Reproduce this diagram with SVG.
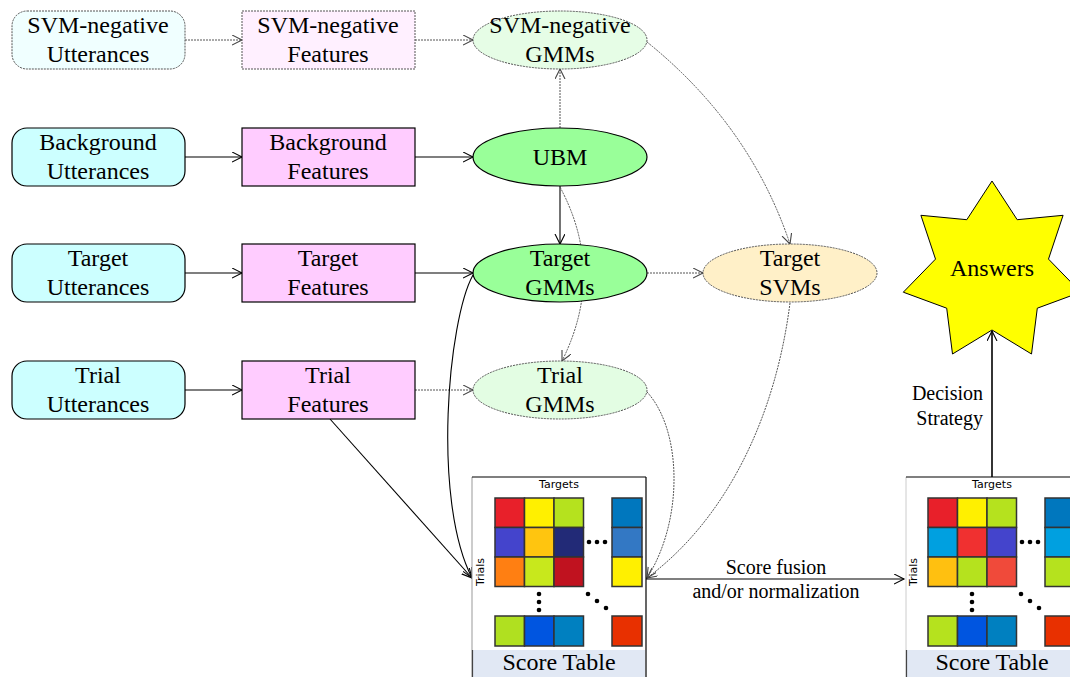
<svg xmlns="http://www.w3.org/2000/svg" width="1070" height="677" viewBox="0 0 1070 677">
<style>
.t{font-family:'Liberation Serif','Times New Roman',Times,Tinos,serif;font-size:24px;fill:#000;text-anchor:middle}
.s{font-family:'Liberation Serif','Times New Roman',Times,Tinos,serif;font-size:20px;fill:#000}
.sm{font-family:'DejaVu Sans',sans-serif;font-size:11px;fill:#000;text-anchor:middle}
.solid{stroke:#000;stroke-width:1.2}
.dot{stroke:#555;stroke-width:1;stroke-dasharray:2 1}
.ln{fill:none;stroke:#000;stroke-width:1.1}
.dl{fill:none;stroke:#555;stroke-width:1;stroke-dasharray:2 1}
.cell{stroke:#333;stroke-width:1.5}
</style>
<defs>
<marker id="a" markerUnits="userSpaceOnUse" markerWidth="12" markerHeight="12" refX="10" refY="5" orient="auto">
<path d="M0,0 L10,5 L0,10" fill="none" stroke="#000" stroke-width="1.1"/>
</marker>
<marker id="ag" markerUnits="userSpaceOnUse" markerWidth="12" markerHeight="12" refX="10" refY="5" orient="auto">
<path d="M0,0 L10,5 L0,10" fill="none" stroke="#444" stroke-width="1.1"/>
</marker>
</defs>
<rect width="1070" height="677" fill="#fff"/>

<g id="connectors">
<line class="dl" x1="185" y1="40" x2="242" y2="40" marker-end="url(#ag)"/>
<line class="dl" x1="415" y1="40" x2="473" y2="40" marker-end="url(#ag)"/>
<line class="ln" x1="185" y1="157" x2="242" y2="157" marker-end="url(#a)"/>
<line class="ln" x1="415" y1="157" x2="473" y2="157" marker-end="url(#a)"/>
<line class="ln" x1="185" y1="273" x2="242" y2="273" marker-end="url(#a)"/>
<line class="ln" x1="415" y1="273" x2="473" y2="273" marker-end="url(#a)"/>
<line class="ln" x1="185" y1="390" x2="242" y2="390" marker-end="url(#a)"/>
<line class="dl" x1="415" y1="390" x2="473" y2="390" marker-end="url(#ag)"/>
<line class="dl" x1="560" y1="128" x2="560" y2="69" marker-end="url(#ag)"/>
<line class="ln" x1="560" y1="186" x2="560" y2="244" marker-end="url(#a)"/>
<path class="dl" d="M560,187 Q606,273 562,361" marker-end="url(#ag)"/>
<path class="dl" d="M647,42 Q750,125 790,244" marker-end="url(#ag)"/>
<line class="dl" x1="647" y1="273" x2="703" y2="273" marker-end="url(#ag)"/>
<path class="dl" d="M790,303 C775,420 725,520 647,578" marker-end="url(#ag)"/>
<path class="dl" d="M647,392 C682,430 684,520 647,578" marker-end="url(#ag)"/>
<path class="ln" d="M473,275 C448,320 432,500 472,578" marker-end="url(#a)"/>
<line class="ln" x1="330" y1="419" x2="472" y2="578" marker-end="url(#a)"/>
<line class="ln" x1="646" y1="579" x2="904" y2="579" marker-end="url(#a)"/>
<line class="ln" x1="992" y1="477" x2="992" y2="331" marker-end="url(#a)"/>
<text class="s" x="776" y="574" text-anchor="middle">Score fusion</text>
<text class="s" x="776" y="598" text-anchor="middle">and/or normalization</text>
<text class="s" x="983" y="400" text-anchor="end">Decision</text>
<text class="s" x="983" y="425" text-anchor="end">Strategy</text>
</g>

<g id="svmneg-utt">
<rect x="12" y="11" width="173" height="58" rx="15" fill="#f0ffff" class="dot"/>
<text class="t" x="98" y="33">SVM-negative</text><text class="t" x="98" y="62">Utterances</text>
</g>
<g id="bg-utt">
<rect x="12" y="128" width="173" height="58" rx="15" fill="#ccffff" class="solid"/>
<text class="t" x="98" y="150">Background</text><text class="t" x="98" y="179">Utterances</text>
</g>
<g id="target-utt">
<rect x="12" y="244" width="173" height="58" rx="15" fill="#ccffff" class="solid"/>
<text class="t" x="98" y="266">Target</text><text class="t" x="98" y="295">Utterances</text>
</g>
<g id="trial-utt">
<rect x="12" y="361" width="173" height="58" rx="15" fill="#ccffff" class="solid"/>
<text class="t" x="98" y="383">Trial</text><text class="t" x="98" y="412">Utterances</text>
</g>

<g id="svmneg-feat">
<rect x="242" y="11" width="173" height="58" fill="#fff0ff" class="dot"/>
<text class="t" x="328" y="33">SVM-negative</text><text class="t" x="328" y="62">Features</text>
</g>
<g id="bg-feat">
<rect x="242" y="128" width="173" height="58" fill="#ffccff" class="solid"/>
<text class="t" x="328" y="150">Background</text><text class="t" x="328" y="179">Features</text>
</g>
<g id="target-feat">
<rect x="242" y="244" width="173" height="58" fill="#ffccff" class="solid"/>
<text class="t" x="328" y="266">Target</text><text class="t" x="328" y="295">Features</text>
</g>
<g id="trial-feat">
<rect x="242" y="361" width="173" height="58" fill="#ffccff" class="solid"/>
<text class="t" x="328" y="383">Trial</text><text class="t" x="328" y="412">Features</text>
</g>

<g id="svmneg-gmms">
<ellipse cx="560" cy="40" rx="87" ry="29" fill="#e6fde6" class="dot"/>
<text class="t" x="560" y="33">SVM-negative</text><text class="t" x="560" y="62">GMMs</text>
</g>
<g id="ubm">
<ellipse cx="560" cy="157" rx="87" ry="29" fill="#99ff99" class="solid"/>
<text class="t" x="560" y="165">UBM</text>
</g>
<g id="target-gmms">
<ellipse cx="560" cy="273" rx="87" ry="29" fill="#99ff99" class="solid"/>
<text class="t" x="560" y="266">Target</text><text class="t" x="560" y="295">GMMs</text>
</g>
<g id="trial-gmms">
<ellipse cx="560" cy="390" rx="87" ry="29" fill="#e3fde3" class="dot"/>
<text class="t" x="560" y="383">Trial</text><text class="t" x="560" y="412">GMMs</text>
</g>
<g id="target-svms">
<ellipse cx="790" cy="273" rx="87" ry="29" fill="#fff0c8" class="dot"/>
<text class="t" x="790" y="266">Target</text><text class="t" x="790" y="295">SVMs</text>
</g>

<g id="answers">
<polygon points="992,181 1017.2,219.7 1063.1,215.3 1048.5,259.1 1080.7,292.2 1037.3,308.2 1031.5,354 992,330 952.5,354 946.7,308.2 903.3,292.2 935.5,259.1 920.9,215.3 966.8,219.7" fill="#ffff00" stroke="#000" stroke-width="1"/>
<text class="t" x="992" y="276">Answers</text>
</g>

<g id="score-table-1">
<rect x="472" y="477" width="174" height="200" fill="#fff" stroke="none"/>
<line x1="472" y1="477" x2="472" y2="677" stroke="#999" stroke-width="1"/>
<line x1="472" y1="477" x2="646" y2="477" stroke="#000" stroke-width="1.2"/>
<line x1="646" y1="477" x2="646" y2="677" stroke="#000" stroke-width="1.2"/>
<rect x="473" y="650" width="172" height="27" fill="#e1e8f4"/>
<line x1="472.5" y1="650" x2="472.5" y2="677" stroke="#444" stroke-width="1.2"/>
<text class="sm" x="559" y="488">Targets</text>
<text class="sm" transform="translate(484,572) rotate(-90)">Trials</text>
<rect class="cell" x="495" y="498" width="29.5" height="29.5" fill="#e8202a"/>
<rect class="cell" x="524.5" y="498" width="29.5" height="29.5" fill="#fff000"/>
<rect class="cell" x="554" y="498" width="29.5" height="29.5" fill="#b5e21e"/>
<rect class="cell" x="495" y="527.5" width="29.5" height="29.5" fill="#4444cc"/>
<rect class="cell" x="524.5" y="527.5" width="29.5" height="29.5" fill="#ffc50f"/>
<rect class="cell" x="554" y="527.5" width="29.5" height="29.5" fill="#222a77"/>
<rect class="cell" x="495" y="557" width="29.5" height="29.5" fill="#ff7f12"/>
<rect class="cell" x="524.5" y="557" width="29.5" height="29.5" fill="#c8e81c"/>
<rect class="cell" x="554" y="557" width="29.5" height="29.5" fill="#c0121f"/>
<rect class="cell" x="612" y="498" width="30" height="29.5" fill="#0077be"/>
<rect class="cell" x="612" y="527.5" width="30" height="29.5" fill="#3378c4"/>
<rect class="cell" x="612" y="557" width="30" height="29.5" fill="#fff000"/>
<rect class="cell" x="495" y="616" width="29.5" height="30" fill="#b0e020"/>
<rect class="cell" x="524.5" y="616" width="29.5" height="30" fill="#0055e0"/>
<rect class="cell" x="554" y="616" width="29.5" height="30" fill="#0080c0"/>
<rect class="cell" x="612" y="616" width="30" height="30" fill="#e83000"/>
<g fill="#000">
<circle cx="589" cy="542" r="2.3"/><circle cx="597" cy="542" r="2.3"/><circle cx="605" cy="542" r="2.3"/>
<circle cx="539" cy="594" r="2.3"/><circle cx="539" cy="602" r="2.3"/><circle cx="539" cy="610" r="2.3"/>
<circle cx="588" cy="594" r="2.3"/><circle cx="597" cy="601" r="2.3"/><circle cx="606" cy="608" r="2.3"/>
</g>
<text class="t" x="559" y="670">Score Table</text>
</g>

<g id="score-table-2">
<rect x="906" y="477" width="174" height="200" fill="#fff" stroke="none"/>
<line x1="906" y1="477" x2="906" y2="677" stroke="#ccc" stroke-width="1"/>
<line x1="906" y1="477" x2="1070" y2="477" stroke="#000" stroke-width="1.2"/>
<rect x="907" y="650" width="172" height="27" fill="#e1e8f4"/>
<line x1="906.5" y1="650" x2="906.5" y2="677" stroke="#444" stroke-width="1.2"/>
<text class="sm" x="992" y="488">Targets</text>
<text class="sm" transform="translate(917,572) rotate(-90)">Trials</text>
<rect class="cell" x="928" y="498" width="29.5" height="29.5" fill="#e8202a"/>
<rect class="cell" x="957.5" y="498" width="29.5" height="29.5" fill="#fff000"/>
<rect class="cell" x="987" y="498" width="29.5" height="29.5" fill="#b5e21e"/>
<rect class="cell" x="928" y="527.5" width="29.5" height="29.5" fill="#00a0e0"/>
<rect class="cell" x="957.5" y="527.5" width="29.5" height="29.5" fill="#f03030"/>
<rect class="cell" x="987" y="527.5" width="29.5" height="29.5" fill="#4444cc"/>
<rect class="cell" x="928" y="557" width="29.5" height="29.5" fill="#ffc010"/>
<rect class="cell" x="957.5" y="557" width="29.5" height="29.5" fill="#b5e21e"/>
<rect class="cell" x="987" y="557" width="29.5" height="29.5" fill="#f04a3a"/>
<rect class="cell" x="1045" y="498" width="30" height="29.5" fill="#0077be"/>
<rect class="cell" x="1045" y="527.5" width="30" height="29.5" fill="#00a0e0"/>
<rect class="cell" x="1045" y="557" width="30" height="29.5" fill="#b5e21e"/>
<rect class="cell" x="928" y="616" width="29.5" height="30" fill="#b5e21e"/>
<rect class="cell" x="957.5" y="616" width="29.5" height="30" fill="#0055e0"/>
<rect class="cell" x="987" y="616" width="29.5" height="30" fill="#0080c0"/>
<rect class="cell" x="1045" y="616" width="30" height="30" fill="#e83000"/>
<g fill="#000">
<circle cx="1022" cy="542" r="2.3"/><circle cx="1030" cy="542" r="2.3"/><circle cx="1038" cy="542" r="2.3"/>
<circle cx="972" cy="594" r="2.3"/><circle cx="972" cy="602" r="2.3"/><circle cx="972" cy="610" r="2.3"/>
<circle cx="1021" cy="594" r="2.3"/><circle cx="1030" cy="601" r="2.3"/><circle cx="1039" cy="608" r="2.3"/>
</g>
<text class="t" x="992" y="670">Score Table</text>
</g>
<line x1="992" y1="477" x2="992" y2="331" stroke="#000" stroke-width="1.1"/>
</svg>
